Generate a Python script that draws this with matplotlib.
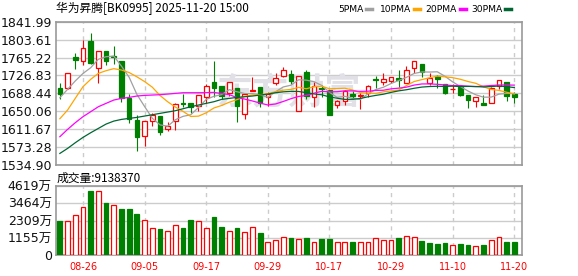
import numpy as np
import matplotlib.pyplot as plt
from matplotlib.lines import Line2D

# trading days shown (MM-DD), 2025-08-21 .. 2025-11-20
dates = ["08-21", "08-22", "08-25", "08-26", "08-27", "08-28", "08-29",
         "09-01", "09-02", "09-03", "09-04", "09-05", "09-08", "09-09", "09-10",
         "09-11", "09-12", "09-15", "09-16", "09-17", "09-18", "09-19", "09-22",
         "09-23", "09-24", "09-25", "09-26", "09-29", "09-30",
         "10-09", "10-10", "10-13", "10-14", "10-15", "10-16", "10-17", "10-20",
         "10-21", "10-22", "10-23", "10-24", "10-27", "10-28", "10-29", "10-30",
         "10-31", "11-03", "11-04", "11-05", "11-06", "11-07", "11-10", "11-11",
         "11-12", "11-13", "11-14", "11-17", "11-18", "11-19", "11-20"]

opens = [1699.8, 1699.1, 1765.6, 1757.0, 1800.6, 1743.4, 1778.4, 1768.0, 1757.7, 1678.4,
         1631.2, 1597.6, 1628.3, 1639.8, 1611.2, 1629.0, 1667.0, 1666.9, 1661.2, 1681.2,
         1712.7, 1704.1, 1688.4, 1699.1, 1644.1, 1694.2, 1701.2, 1681.2, 1709.8, 1725.6,
         1729.8, 1649.8, 1733.4, 1681.2, 1699.1, 1695.5, 1663.4, 1672.6, 1686.9, 1682.7,
         1689.8, 1719.1, 1713.4, 1715.5, 1721.3, 1709.8, 1742.0, 1751.3, 1711.2, 1725.5,
         1708.4, 1697.0, 1702.7, 1684.1, 1671.2, 1667.6, 1668.4, 1704.1, 1712.7, 1686.9]
highs = [1709.8, 1731.3, 1775.6, 1802.7, 1818.5, 1778.4, 1778.4, 1789.9, 1757.7, 1687.0,
         1641.9, 1629.0, 1645.5, 1639.8, 1627.6, 1667.0, 1687.0, 1666.9, 1684.1, 1708.4,
         1758.4, 1704.1, 1712.0, 1699.1, 1686.9, 1724.1, 1701.2, 1691.9, 1731.3, 1745.6,
         1738.4, 1726.3, 1738.4, 1713.4, 1706.2, 1695.5, 1674.1, 1695.5, 1694.1, 1689.8,
         1706.2, 1725.6, 1731.3, 1724.1, 1738.4, 1747.0, 1758.4, 1751.3, 1731.3, 1727.7,
         1708.4, 1708.4, 1702.7, 1684.1, 1679.8, 1684.1, 1702.7, 1716.3, 1712.7, 1691.9]
lows = [1675.5, 1697.0, 1741.3, 1749.1, 1751.5, 1709.8, 1749.9, 1752.0, 1670.5, 1625.5,
        1565.4, 1575.4, 1618.3, 1599.0, 1607.6, 1609.8, 1658.4, 1646.9, 1651.2, 1666.9,
        1681.2, 1675.5, 1682.7, 1627.6, 1632.6, 1692.9, 1659.8, 1661.2, 1706.2, 1724.1,
        1708.4, 1649.8, 1675.5, 1659.8, 1681.2, 1642.6, 1656.2, 1663.4, 1675.5, 1654.1,
        1681.2, 1699.1, 1706.2, 1711.2, 1702.7, 1709.8, 1731.3, 1722.7, 1706.2, 1699.1,
        1686.9, 1689.8, 1682.7, 1657.6, 1659.8, 1664.1, 1668.4, 1696.9, 1672.6, 1666.9]
closes = [1686.9, 1731.3, 1760.6, 1784.9, 1752.7, 1778.4, 1758.4, 1767.0, 1677.6, 1632.6,
          1595.5, 1629.0, 1641.2, 1606.2, 1618.3, 1665.5, 1664.8, 1658.4, 1684.1, 1704.1,
          1699.1, 1682.7, 1712.0, 1661.2, 1686.9, 1696.4, 1668.4, 1686.9, 1720.5, 1738.4,
          1715.5, 1726.3, 1682.7, 1704.8, 1697.0, 1642.6, 1671.9, 1694.1, 1682.7, 1684.8,
          1704.1, 1717.0, 1719.1, 1722.7, 1717.0, 1738.4, 1758.4, 1734.9, 1722.0, 1719.8,
          1689.8, 1698.4, 1684.8, 1674.1, 1679.8, 1664.1, 1699.1, 1716.3, 1682.0, 1680.5]

# volume in 万
volumes = [2310, 2288, 2688, 3222, 4289, 4267, 3489, 3356, 3089, 3089,
           2778, 2333, 1821, 1754, 1621, 2022, 1821, 2355, 2288, 1821,
           2555, 1888, 1621, 1821, 1554, 1866, 1488, 887, 1021, 1221,
           1177, 1088, 1177, 910, 1088, 1088, 910, 910, 910, 910,
           910, 1132, 1043, 1043, 1155, 1288, 1221, 955, 822, 777,
           822, 688, 755, 688, 622, 688, 1021, 1221, 888, 914]

ma5 = [1679.0, 1697.0, 1715.0, 1731.0, 1743.3, 1761.6, 1767.0, 1768.3, 1746.8, 1722.8,
       1686.2, 1660.3, 1635.2, 1620.9, 1618.0, 1632.0, 1639.2, 1642.6, 1658.2, 1675.4,
       1682.1, 1685.7, 1696.4, 1691.8, 1688.4, 1687.8, 1685.0, 1680.0, 1691.8, 1702.1,
       1705.9, 1717.5, 1716.7, 1713.5, 1705.3, 1690.7, 1679.8, 1682.1, 1677.7, 1675.2,
       1687.5, 1696.5, 1701.5, 1709.5, 1716.0, 1722.8, 1731.1, 1734.3, 1734.1, 1734.7,
       1725.0, 1713.0, 1703.0, 1693.4, 1685.4, 1680.2, 1680.4, 1686.7, 1688.3, 1688.4]
ma10 = [1634.0, 1652.6, 1677.7, 1702.7, 1718.4, 1731.3, 1737.0, 1741.3, 1738.4, 1733.0,
        1723.9, 1713.7, 1701.7, 1683.9, 1670.4, 1659.1, 1649.8, 1638.9, 1639.6, 1646.7,
        1657.1, 1662.4, 1669.5, 1675.0, 1681.9, 1685.0, 1685.3, 1688.2, 1691.8, 1695.3,
        1696.9, 1701.3, 1698.3, 1702.7, 1703.7, 1698.3, 1698.7, 1699.4, 1695.6, 1690.2,
        1689.1, 1688.2, 1691.8, 1693.6, 1695.6, 1705.2, 1713.8, 1717.9, 1721.8, 1725.3,
        1723.9, 1722.1, 1718.6, 1713.8, 1710.0, 1702.6, 1696.7, 1694.8, 1690.8, 1686.9]
ma20 = [1595.5, 1611.2, 1625.5, 1638.4, 1649.1, 1659.8, 1667.0, 1674.1, 1677.7, 1679.8,
        1682.7, 1684.1, 1684.8, 1685.5, 1686.9, 1688.4, 1689.8, 1689.8, 1689.8, 1689.9,
        1690.5, 1688.1, 1685.6, 1679.4, 1676.2, 1672.1, 1667.6, 1663.5, 1665.7, 1671.0,
        1677.0, 1681.8, 1683.9, 1688.9, 1692.8, 1691.6, 1692.0, 1693.8, 1693.7, 1692.7,
        1693.0, 1694.7, 1695.1, 1698.1, 1699.6, 1701.7, 1706.2, 1708.6, 1708.7, 1707.8,
        1706.5, 1705.1, 1705.2, 1703.7, 1702.8, 1703.9, 1705.3, 1706.4, 1706.3, 1706.1]
ma30 = [1559.7, 1570.4, 1582.6, 1594.0, 1604.0, 1613.3, 1622.6, 1629.0, 1632.6, 1634.8,
        1636.9, 1639.8, 1642.6, 1645.5, 1648.4, 1651.2, 1655.5, 1659.8, 1663.4, 1667.0,
        1670.5, 1675.5, 1677.7, 1679.8, 1681.2, 1682.7, 1684.8, 1686.9, 1689.8, 1691.7,
        1692.7, 1692.5, 1689.9, 1687.2, 1685.4, 1680.8, 1678.0, 1675.5, 1675.7, 1677.4,
        1681.1, 1684.0, 1686.6, 1690.5, 1693.8, 1696.2, 1699.3, 1701.9, 1703.1, 1703.6,
        1703.3, 1703.9, 1703.0, 1703.4, 1703.1, 1702.1, 1703.1, 1704.1, 1702.8, 1700.9]

price_ticks = [1534.90, 1573.28, 1611.67, 1650.06, 1688.44, 1726.83, 1765.22, 1803.61, 1841.99]
vol_ticks = [0, 1155, 2309, 3464, 4619]
vol_labels = ["0", "1155万", "2309万", "3464万", "4619万"]
date_ticks = ["08-26", "09-05", "09-17", "09-29", "10-17", "10-29", "11-10", "11-20"]

title = "华为昇腾[BK0995] 2025-11-20 15:00"
vol_title = "成交量:9138370"
ma_names = ["5PMA", "10PMA", "20PMA", "30PMA"]

RED = "#ff0000"
GREEN = "#008000"
ma_colors = ["#a0a0a0", "#ffa500", "#ff00ff", "#006633"]
GRID = "#cccccc"
FRAME = "#999999"

plt.rcParams['font.family'] = ['DejaVu Sans', 'Noto Sans CJK SC']

W, H = 578, 276
fig = plt.figure(figsize=(W / 100, H / 100), dpi=100)
ax = fig.add_axes([56 / W, 1 - 165 / H, 466 / W, 143.3 / H])
axv = fig.add_axes([56 / W, 1 - 255.3 / H, 466 / W, 69.3 / H])

x = np.arange(len(dates))
o = np.array(opens)
h = np.array(highs)
l = np.array(lows)
c = np.array(closes)
up = c >= o
cols = np.where(up, RED, GREEN)

# candles
ax.vlines(x, l, h, colors=cols, linewidth=0.8, zorder=2)
ax.bar(x, np.maximum(np.abs(c - o), 0.8), 0.6, bottom=np.minimum(o, c),
       facecolor=np.where(up, "white", GREEN), edgecolor=cols, linewidth=0.9, zorder=3)

for ma, col in zip([ma5, ma10, ma20, ma30], ma_colors):
    ax.plot(x, ma, color=col, linewidth=0.9, zorder=4)

ax.text(0.50, 0.50, "东方财富", transform=ax.transAxes, fontsize=26, color="#e0e0e6",
        ha="center", va="center", fontweight="bold", family="Noto Sans CJK SC", zorder=0.6)

# volume, coloured by change from previous close
vol_up = np.r_[c[0] >= o[0], c[1:] >= c[:-1]]
vcols = np.where(vol_up, RED, GREEN)
axv.bar(x, volumes, 0.62, facecolor=np.where(vol_up, "white", GREEN),
        edgecolor=vcols, linewidth=0.9, zorder=3)

tick_pos = [dates.index(d) for d in date_ticks]
for a in (ax, axv):
    a.set_xlim(-0.5, len(dates))
    a.set_axisbelow(True)
    a.grid(axis="y", color=GRID, linewidth=1)
    for t in tick_pos:
        a.axvline(t, color=GRID, linewidth=1, linestyle=(0, (3, 3)), zorder=0.5)
    for s in a.spines.values():
        s.set_color(FRAME)
        s.set_linewidth(1.2)
    a.tick_params(length=0, labelsize=9, pad=3, colors="#111111")

ax.set_ylim(price_ticks[0], price_ticks[-1])
ax.set_yticks(price_ticks)
ax.set_yticklabels([f"{v:.2f}" for v in price_ticks])
ax.set_xticks([])

axv.set_ylim(vol_ticks[0], vol_ticks[-1])
axv.set_yticks(vol_ticks)
axv.set_yticklabels(vol_labels)
axv.set_xticks(tick_pos)
axv.set_xticklabels(date_ticks, fontsize=7, color=RED)
axv.tick_params(axis="x", pad=5)

fig.text(56 / W, 1 - 8.5 / H, title, fontsize=8.5, va="center", ha="left",
         family=["Noto Sans CJK SC", "DejaVu Sans"])
fig.text(57 / W, 1 - 178.3 / H, vol_title, fontsize=8.5, va="center", ha="left",
         family=["Noto Sans CJK SC", "DejaVu Sans"])

# legend along the top right
name_x = [338, 380, 425, 471]
dash_x = [366, 414, 460, 505]
for name, col, nx, dx in zip(ma_names, ma_colors, name_x, dash_x):
    fig.text(nx / W, 1 - 9 / H, name, fontsize=6.6, va="center", ha="left")
    fig.add_artist(Line2D([dx / W, (dx + 6) / W], [1 - 9 / H, 1 - 9 / H],
                          color=col, linewidth=2.5, transform=fig.transFigure))

fig.savefig("out.png", dpi=100)
